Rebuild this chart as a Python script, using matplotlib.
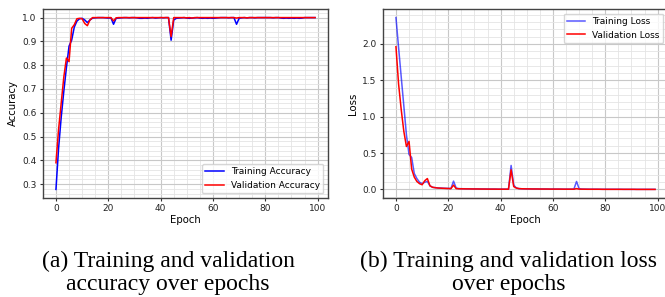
import matplotlib
matplotlib.use("Agg")
import matplotlib.pyplot as plt
from matplotlib.ticker import AutoMinorLocator
import numpy as np

epochs = list(range(100))

train_acc = [
    0.278, 0.45, 0.58, 0.69, 0.79, 0.88, 0.905, 0.96, 0.985, 0.995,
    0.997, 0.99, 0.979, 0.99, 0.998, 0.999, 1.0, 1.0, 1.0, 0.999,
    0.998, 0.999, 0.972, 0.997, 0.998, 0.999, 1.0, 1.0, 0.999, 1.0,
    1.0, 0.999, 0.997, 0.997, 0.998, 0.997, 0.999, 1.0, 0.998, 0.999,
    1.0, 0.999, 1.0, 1.0, 0.905, 0.99, 0.997, 0.998, 0.999, 1.0,
    0.998, 0.997, 0.998, 0.999, 1.0, 0.998, 0.997, 0.998, 0.997, 0.998,
    0.997, 0.998, 0.999, 1.0, 1.0, 1.0, 0.999, 1.0, 1.0, 0.972,
    0.997, 0.999, 1.0, 0.999, 1.0, 1.0, 0.999, 1.0, 1.0, 1.0,
    1.0, 1.0, 1.0, 0.999, 1.0, 1.0, 0.998, 0.997, 0.998, 0.997,
    0.998, 0.997, 0.998, 0.997, 0.998, 1.0, 1.0, 1.0, 1.0, 1.0,
]

val_acc = [
    0.39, 0.53, 0.64, 0.75, 0.83, 0.815, 0.955, 0.97, 0.995, 0.997,
    0.995, 0.975, 0.966, 0.99, 1.0, 1.0, 1.0, 1.0, 1.0, 1.0,
    1.0, 1.0, 0.986, 0.999, 1.0, 1.0, 1.0, 1.0, 1.0, 1.0,
    1.0, 1.0, 1.0, 1.0, 1.0, 1.0, 1.0, 1.0, 1.0, 1.0,
    1.0, 1.0, 1.0, 1.0, 0.92, 1.0, 1.0, 1.0, 1.0, 1.0,
    0.999, 1.0, 0.998, 1.0, 1.0, 1.0, 1.0, 1.0, 1.0, 1.0,
    1.0, 1.0, 1.0, 1.0, 1.0, 1.0, 1.0, 1.0, 1.0, 0.998,
    1.0, 1.0, 1.0, 0.999, 1.0, 1.0, 1.0, 1.0, 1.0, 1.0,
    1.0, 1.0, 1.0, 1.0, 1.0, 1.0, 1.0, 1.0, 1.0, 1.0,
    1.0, 1.0, 1.0, 1.0, 1.0, 1.0, 1.0, 1.0, 1.0, 1.0,
]

train_loss = [
    2.36, 1.95, 1.55, 1.15, 0.75, 0.48, 0.44, 0.22, 0.15, 0.10,
    0.08, 0.10, 0.11, 0.05, 0.03, 0.025, 0.022, 0.02, 0.018, 0.016,
    0.015, 0.013, 0.115, 0.02, 0.012, 0.011, 0.01, 0.01, 0.009, 0.009,
    0.008, 0.008, 0.008, 0.007, 0.007, 0.007, 0.006, 0.006, 0.006, 0.005,
    0.005, 0.005, 0.005, 0.004, 0.33, 0.06, 0.02, 0.012, 0.01, 0.009,
    0.009, 0.008, 0.008, 0.008, 0.007, 0.007, 0.007, 0.007, 0.006, 0.006,
    0.006, 0.006, 0.006, 0.005, 0.005, 0.005, 0.005, 0.005, 0.005, 0.11,
    0.01, 0.006, 0.005, 0.005, 0.004, 0.004, 0.004, 0.004, 0.003, 0.003,
    0.003, 0.003, 0.003, 0.003, 0.003, 0.003, 0.003, 0.002, 0.002, 0.002,
    0.002, 0.002, 0.002, 0.002, 0.002, 0.002, 0.002, 0.002, 0.002, 0.002,
]

val_loss = [
    1.96, 1.45, 1.1, 0.8, 0.59, 0.66, 0.28, 0.17, 0.11, 0.08,
    0.065, 0.12, 0.15, 0.05, 0.03, 0.025, 0.02, 0.018, 0.016, 0.015,
    0.013, 0.012, 0.06, 0.012, 0.01, 0.009, 0.009, 0.008, 0.008, 0.007,
    0.007, 0.007, 0.006, 0.006, 0.006, 0.005, 0.005, 0.005, 0.005, 0.004,
    0.004, 0.004, 0.004, 0.004, 0.27, 0.04, 0.02, 0.012, 0.01, 0.009,
    0.008, 0.008, 0.007, 0.007, 0.007, 0.006, 0.006, 0.006, 0.006, 0.005,
    0.005, 0.005, 0.005, 0.005, 0.004, 0.004, 0.004, 0.004, 0.004, 0.012,
    0.005, 0.004, 0.004, 0.003, 0.003, 0.003, 0.003, 0.003, 0.003, 0.002,
    0.002, 0.002, 0.002, 0.002, 0.002, 0.002, 0.002, 0.002, 0.002, 0.002,
    0.002, 0.002, 0.001, 0.001, 0.001, 0.001, 0.001, 0.001, 0.001, 0.001,
]

W, H = 665, 297
fig = plt.figure(figsize=(W / 100, H / 100), dpi=100)

tick_fs = 6.5
label_fs = 7.3


def style(ax):
    ax.minorticks_on()
    ax.xaxis.set_minor_locator(AutoMinorLocator())
    ax.yaxis.set_minor_locator(AutoMinorLocator())
    ax.grid(which="major", color="#c8c8c8", linewidth=0.8)
    ax.grid(which="minor", color="#e4e4e4", linewidth=0.6)
    ax.set_axisbelow(True)
    ax.tick_params(which="major", labelsize=tick_fs, length=2.5, width=0.8,
                   color="#333333", labelcolor="#222222", pad=2)
    ax.tick_params(which="minor", length=0)
    for s in ax.spines.values():
        s.set_color("#444444")
        s.set_linewidth(1.0)


ax1 = fig.add_axes([43 / W, (H - 198) / H, 285 / W, 189 / H])
ax1.plot(epochs, train_acc, color="blue", lw=1.1, label="Training Accuracy")
ax1.plot(epochs, val_acc, color="red", lw=1.1, label="Validation Accuracy")
ax1.set_xlabel("Epoch", fontsize=label_fs, labelpad=1)
ax1.set_ylabel("Accuracy", fontsize=label_fs, labelpad=3)
style(ax1)
ax1.legend(loc="lower right", fontsize=tick_fs, handlelength=2.0,
           framealpha=0.8, edgecolor="#cccccc", fancybox=True)

ax2 = fig.add_axes([383 / W, (H - 198) / H, 285 / W, 189 / H])
ax2.plot(epochs, train_loss, color="blue", lw=1.1, alpha=0.65, label="Training Loss")
ax2.plot(epochs, val_loss, color="red", lw=1.1, label="Validation Loss")
ax2.set_xlabel("Epoch", fontsize=label_fs, labelpad=1)
ax2.set_ylabel("Loss", fontsize=label_fs, labelpad=3)
style(ax2)
ax2.legend(loc="upper right", fontsize=tick_fs, handlelength=2.0,
           framealpha=0.8, edgecolor="#cccccc", fancybox=True)

cap = dict(family=["Liberation Serif", "DejaVu Serif"], fontsize=17,
           ha="center", va="baseline", color="black")
fig.text(168 / W, (H - 267) / H, "(a) Training and validation", **cap)
fig.text(168 / W, (H - 290) / H, "accuracy over epochs", **cap)
fig.text(509 / W, (H - 267) / H, "(b) Training and validation loss", **cap)
fig.text(509 / W, (H - 290) / H, "over epochs", **cap)

fig.savefig("out.png", dpi=100)
